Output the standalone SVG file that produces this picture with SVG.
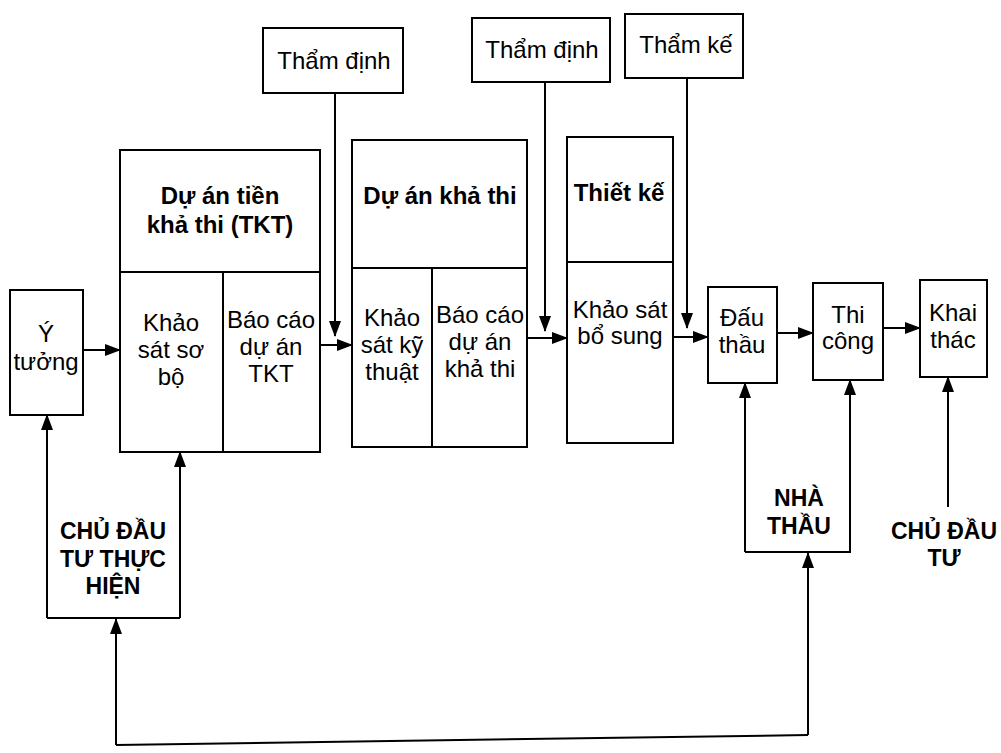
<svg xmlns="http://www.w3.org/2000/svg" width="1001" height="753" viewBox="0 0 1001 753">
<defs>
<marker id="arr" markerUnits="userSpaceOnUse" markerWidth="16" markerHeight="12" refX="15" refY="6" orient="auto">
<path d="M0,0 L16,6 L0,12 z" fill="#000"/>
</marker>
<style>
.box{fill:#fff;stroke:#000;stroke-width:2}
.ln{fill:none;stroke:#000;stroke-width:2}
.t{font-family:"Liberation Sans",Arial,sans-serif;font-size:24px;fill:#000;text-anchor:middle}
.b{font-family:"Liberation Sans",Arial,sans-serif;font-size:24px;font-weight:bold;fill:#000;text-anchor:middle}
.lb{font-family:"Liberation Sans",Arial,sans-serif;font-size:23px;font-weight:bold;fill:#000;text-anchor:middle}
.c{fill:none;stroke:#000;stroke-width:2;marker-end:url(#arr)}
</style>
</defs>
<rect width="1001" height="753" fill="#fff"/>

<g id="y-tuong">
<rect class="box" x="10" y="290" width="73" height="125"/>
<text class="t" x="46" y="342">Ý</text>
<text class="t" x="46" y="370">tưởng</text>
</g>

<g id="du-an-tien-kha-thi">
<rect class="box" x="120" y="150" width="200" height="302"/>
<line class="ln" x1="120" y1="272" x2="320" y2="272"/>
<line class="ln" x1="223" y1="272" x2="223" y2="452"/>
<text class="b" x="220" y="204">Dự án tiền</text>
<text class="b" x="220" y="233">khả thi (TKT)</text>
<text class="t" x="171" y="331">Khảo</text>
<text class="t" x="171" y="358">sát sơ</text>
<text class="t" x="171" y="385">bộ</text>
<text class="t" x="271" y="328">Báo cáo</text>
<text class="t" x="271" y="355">dự án</text>
<text class="t" x="271" y="382">TKT</text>
</g>

<g id="du-an-kha-thi">
<rect class="box" x="352" y="140" width="175" height="307"/>
<line class="ln" x1="352" y1="268" x2="527" y2="268"/>
<line class="ln" x1="432" y1="268" x2="432" y2="447"/>
<text class="b" x="440" y="204">Dự án khả thi</text>
<text class="t" x="392" y="326">Khảo</text>
<text class="t" x="392" y="353">sát kỹ</text>
<text class="t" x="392" y="380">thuật</text>
<text class="t" x="480" y="323">Báo cáo</text>
<text class="t" x="480" y="350">dự án</text>
<text class="t" x="480" y="377">khả thi</text>
</g>

<g id="thiet-ke">
<rect class="box" x="567" y="137" width="106" height="306"/>
<line class="ln" x1="567" y1="262" x2="673" y2="262"/>
<text class="b" x="619" y="201">Thiết kế</text>
<text class="t" x="620" y="318">Khảo sát</text>
<text class="t" x="620" y="344">bổ sung</text>
</g>

<g id="dau-thau">
<rect class="box" x="708" y="287" width="69" height="96"/>
<text class="t" x="742" y="326">Đấu</text>
<text class="t" x="742" y="353">thầu</text>
</g>

<g id="thi-cong">
<rect class="box" x="813" y="283" width="70" height="97"/>
<text class="t" x="848" y="323">Thi</text>
<text class="t" x="848" y="349">công</text>
</g>

<g id="khai-thac">
<rect class="box" x="920" y="280" width="67" height="97"/>
<text class="t" x="953" y="321">Khai</text>
<text class="t" x="953" y="348">thác</text>
</g>

<g id="tham-dinh-1">
<rect class="box" x="263" y="28" width="140" height="65"/>
<text class="t" x="334" y="69">Thẩm định</text>
</g>

<g id="tham-dinh-2">
<rect class="box" x="472" y="18" width="138" height="64"/>
<text class="t" x="542" y="58">Thẩm định</text>
</g>

<g id="tham-ke">
<rect class="box" x="625" y="14" width="118" height="64"/>
<text class="t" x="686" y="53">Thẩm kế</text>
</g>

<g id="chu-dau-tu-thuc-hien">
<text class="lb" x="113" y="539">CHỦ ĐẦU</text>
<text class="lb" x="113" y="567">TƯ THỰC</text>
<text class="lb" x="113" y="594">HIỆN</text>
</g>

<g id="nha-thau">
<text class="lb" x="799" y="506">NHÀ</text>
<text class="lb" x="799" y="534">THẦU</text>
</g>

<g id="chu-dau-tu">
<text class="lb" x="944" y="539">CHỦ ĐẦU</text>
<text class="lb" x="944" y="566">TƯ</text>
</g>

<g id="connectors">
<line class="c" x1="83" y1="350" x2="120" y2="350"/>
<line class="c" x1="320" y1="345" x2="352" y2="345"/>
<line class="c" x1="527" y1="338" x2="567" y2="338"/>
<line class="c" x1="673" y1="337" x2="708" y2="337"/>
<line class="c" x1="777" y1="333" x2="813" y2="333"/>
<line class="c" x1="883" y1="328" x2="920" y2="328"/>
<line class="c" x1="335" y1="93" x2="335" y2="336"/>
<line class="c" x1="545" y1="82" x2="545" y2="331"/>
<line class="c" x1="687" y1="78" x2="687" y2="328"/>
<polyline class="ln" points="47,618 180,618"/>
<line class="c" x1="47" y1="618" x2="47" y2="415"/>
<line class="c" x1="180" y1="618" x2="180" y2="452"/>
<line class="c" x1="116" y1="745" x2="116" y2="619"/>
<polyline class="ln" points="116,745 808,735"/>
<line class="c" x1="808" y1="735" x2="808" y2="553"/>
<polyline class="ln" points="745,552 851,552"/>
<line class="c" x1="745" y1="552" x2="745" y2="383"/>
<line class="c" x1="850" y1="552" x2="850" y2="380"/>
<line class="c" x1="948" y1="507" x2="948" y2="377"/>
</g>
</svg>
